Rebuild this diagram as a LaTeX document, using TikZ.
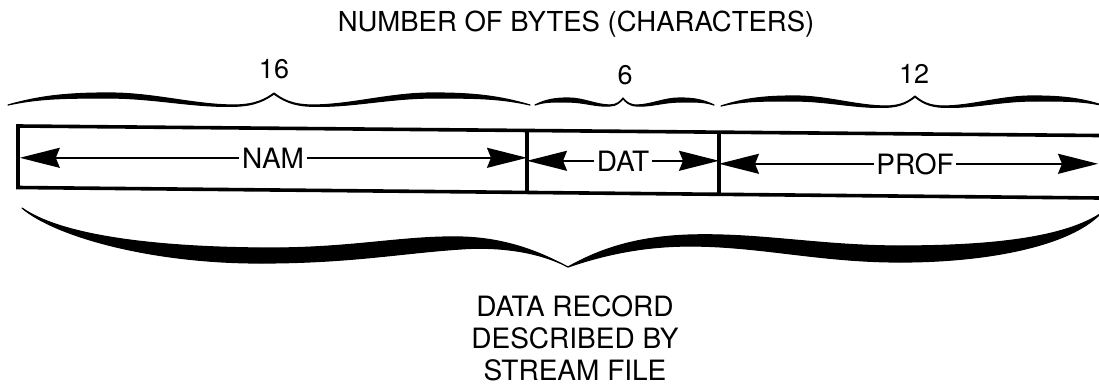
\documentclass[tikz,border=0pt]{standalone}
\usepackage{fontspec}
\setmainfont{TeX Gyre Heros}
\usetikzlibrary{arrows.meta}
\newcommand\tbrace[6]{% #1 xa, #2 xp, #3 xb, #4 y0, #5 h, #6 t
\pgfmathsetmacro\brLa{#2-#1}%
\pgfmathsetmacro\brLb{#3-#2}%
\filldraw[brc] (#1,#4)
 .. controls ({#1+0.12*\brLa},{#4-0.75*#5}) and ({#1+0.22*\brLa},{#4-#5}) .. ({#1+0.38*\brLa},{#4-#5})
 .. controls ({#1+0.55*\brLa},{#4-#5}) and ({#2-0.3*\brLa},{#4}) .. ({#2-0.15*\brLa},{#4})
 .. controls ({#2-0.07*\brLa},{#4}) and ({#2-0.03*\brLa},{#4-0.5*#5}) .. (#2,{#4-#5})
 .. controls ({#2+0.03*\brLb},{#4-0.5*#5}) and ({#2+0.07*\brLb},{#4}) .. ({#2+0.15*\brLb},{#4})
 .. controls ({#2+0.3*\brLb},{#4}) and ({#3-0.55*\brLb},{#4-#5}) .. ({#3-0.38*\brLb},{#4-#5})
 .. controls ({#3-0.22*\brLb},{#4-#5}) and ({#3-0.12*\brLb},{#4-0.75*#5}) .. (#3,#4)
 .. controls ({#3-0.12*\brLb},{#4-0.75*#5+0.4*#6}) and ({#3-0.22*\brLb},{#4-#5+#6}) .. ({#3-0.38*\brLb},{#4-#5+#6})
 .. controls ({#3-0.55*\brLb},{#4-#5+#6}) and ({#2+0.3*\brLb},{#4+0.5*#6}) .. ({#2+0.15*\brLb},{#4+0.25*#6})
 .. controls ({#2+0.07*\brLb},{#4+0.2*#6}) and ({#2+0.03*\brLb},{#4-0.5*#5+0.1*#6}) .. (#2,{#4-#5+0.2*#6})
 .. controls ({#2-0.03*\brLa},{#4-0.5*#5+0.1*#6}) and ({#2-0.07*\brLa},{#4+0.2*#6}) .. ({#2-0.15*\brLa},{#4+0.25*#6})
 .. controls ({#2-0.3*\brLa},{#4+0.5*#6}) and ({#1+0.55*\brLa},{#4-#5+#6}) .. ({#1+0.38*\brLa},{#4-#5+#6})
 .. controls ({#1+0.22*\brLa},{#4-#5+#6}) and ({#1+0.12*\brLa},{#4-0.75*#5+0.4*#6}) .. (#1,#4) -- cycle;
}
\begin{document}
\begin{tikzpicture}[x=1pt,y=-1pt,
  brc/.style={fill=black,draw=black,line width=1.2pt,line join=round},
  boxline/.style={line width=3.6pt,line join=miter},
  arr/.style={line width=1.6pt,-{Stealth[length=40pt,width=20pt,inset=4pt]}},
  lbl/.style={font=\fontsize{28}{32}\selectfont,inner sep=2.5pt,anchor=base},
  num/.style={font=\fontsize{27}{30}\selectfont,inner sep=0pt,anchor=base},
  ttl/.style={font=\fontsize{27.5}{30}\selectfont,inner sep=0pt,anchor=base},
  captext/.style={font=\fontsize{28}{32}\selectfont,inner sep=0pt,anchor=north,align=center}]
\useasboundingbox (0,0) rectangle (1099,389);
\clip (0,0) rectangle (1099,389);
% title and byte counts
\node[ttl] (title) at (576,31) {NUMBER OF BYTES (CHARACTERS)};
\node[num] (n16) at (274,78) {16};
\node[num] (n6) at (625,84) {6};
\node[num] (n12) at (914,83) {12};
% top braces
\tbrace{8}{274}{530}{105}{12}{5}
\tbrace{535}{623}{714}{105}{7}{4}
\tbrace{721}{915}{1105}{106}{10}{5}
% record box
\coordinate (tl) at (18,126);
\coordinate (bl) at (18,187.5);
\coordinate (tr) at (1110,135.6);
\coordinate (br) at (1110,198.1);
\coordinate (d1t) at (527,130.5);
\coordinate (d1b) at (527,192.4);
\coordinate (d2t) at (719,132.2);
\coordinate (d2b) at (719,194.3);
\draw[boxline] (tr) -- (tl) -- (bl) -- (br);
\draw[boxline] (d1t) -- (d1b);
\draw[boxline] (d2t) -- (d2b);
% field labels with arrows
\node[lbl] (nam) at (273,168) {NAM};
\node[lbl] (dat) at (623,171) {DAT};
\node[lbl] (prof) at (915,174) {PROF};
\coordinate (lft) at (19.8,0);
\coordinate (dv1) at (527,0);
\coordinate (dv2) at (719,0);
\coordinate (rgt) at (1098,0);
\draw[arr] (nam.west) -- (nam.west -| lft);
\draw[arr] (nam.east) -- (nam.east -| dv1);
\draw[arr] (dat.west) -- (dat.west -| dv1);
\draw[arr] (dat.east) -- (dat.east -| dv2);
\draw[arr] (prof.west) -- (prof.west -| dv2);
\draw[arr] (prof.east) -- (prof.east -| rgt);
% bottom brace
\filldraw[brc] (22,208)
  .. controls (60,235) and (150,247) .. (260,248)
  .. controls (350,249) and (400,236) .. (460,237)
  .. controls (510,238) and (545,255) .. (568,267)
  .. controls (595,252) and (630,237) .. (690,235)
  .. controls (760,233) and (820,246) .. (900,246)
  .. controls (980,246) and (1060,240) .. (1100,214)
  .. controls (1070,245) and (990,262) .. (900,262)
  .. controls (820,262) and (760,246) .. (690,246)
  .. controls (640,246) and (600,256) .. (568,267)
  .. controls (540,252) and (500,246) .. (460,249)
  .. controls (400,253) and (350,263) .. (260,263)
  .. controls (150,263) and (55,236) .. (22,208) -- cycle;
% caption
\node[captext] (caption) at (575,295) {DATA RECORD\\DESCRIBED BY\\STREAM FILE};
\end{tikzpicture}
\end{document}
